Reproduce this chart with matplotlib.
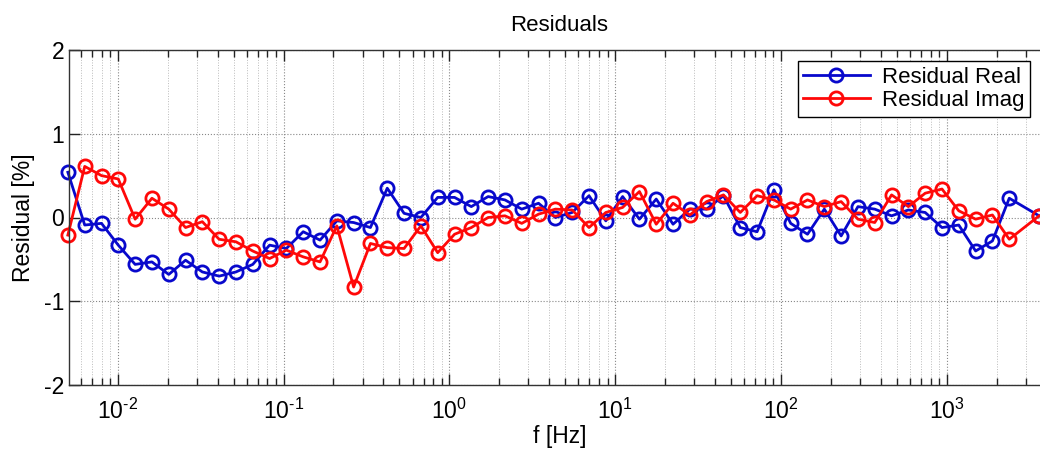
import numpy as np
import matplotlib
matplotlib.use("Agg")
import matplotlib.pyplot as plt
from matplotlib.ticker import FixedLocator, FuncFormatter, NullFormatter

plt.rcParams["font.family"] = ["Liberation Sans", "DejaVu Sans"]
plt.rcParams["mathtext.fontset"] = "custom"
plt.rcParams["mathtext.rm"] = "Liberation Sans"
plt.rcParams["mathtext.it"] = "Liberation Sans"
plt.rcParams["axes.unicode_minus"] = False

# Frecuencias del barrido [Hz]
freq = [0.00500, 0.00632, 0.00798, 0.01007, 0.01273, 0.01607, 0.02030, 0.02564,
        0.03237, 0.04089, 0.05164, 0.06522, 0.08236, 0.1040, 0.1314, 0.1660,
        0.2096, 0.2647, 0.3343, 0.4222, 0.5333, 0.6735, 0.8507, 1.075, 1.357,
        1.714, 2.165, 2.734, 3.453, 4.362, 5.508, 6.957, 8.787, 11.10, 14.02,
        17.70, 22.36, 28.24, 35.66, 45.04, 56.89, 71.85, 90.75, 114.6, 144.7,
        182.8, 230.9, 291.6, 368.3, 465.2, 587.5, 742.0, 937.1, 1183.0, 1495.0,
        1888.0, 2385.0, 3610.0]

# Residuos en %
res_real = [0.54, -0.09, -0.07, -0.33, -0.56, -0.53, -0.68, -0.51, -0.65, -0.70,
            -0.65, -0.56, -0.33, -0.37, -0.17, -0.27, -0.04, -0.06, -0.12, 0.35,
            0.05, 0.00, 0.24, 0.24, 0.13, 0.25, 0.21, 0.10, 0.17, 0.00,
            0.06, 0.26, -0.04, 0.25, -0.02, 0.22, -0.08, 0.10, 0.10, 0.26,
            -0.12, -0.17, 0.33, -0.07, -0.20, 0.10, -0.22, 0.13, 0.10, 0.02,
            0.09, 0.06, -0.12, -0.09, -0.40, -0.28, 0.23, 0.02]
res_imag = [-0.21, 0.61, 0.50, 0.46, -0.02, 0.23, 0.10, -0.12, -0.05, -0.26,
            -0.29, -0.40, -0.49, -0.39, -0.47, -0.53, -0.10, -0.83, -0.31, -0.36,
            -0.37, -0.10, -0.42, -0.20, -0.12, 0.00, 0.02, -0.07, 0.04, 0.10,
            0.09, -0.12, 0.06, 0.12, 0.31, -0.08, 0.17, 0.03, 0.19, 0.27,
            0.06, 0.26, 0.21, 0.10, 0.21, 0.13, 0.19, -0.02, -0.06, 0.27,
            0.13, 0.29, 0.34, 0.08, -0.02, 0.03, -0.26, 0.02]

# Décadas y subdivisiones del eje de frecuencia
decadas = [-2, -1, 0, 1, 2, 3]
xmin, xmax = 0.00508, 4200

fig = plt.figure(figsize=(10.4, 4.51), dpi=100)
ax = fig.add_axes([69 / 1040, 66 / 451, (1050 - 69) / 1040, 335 / 451])

ax.semilogx(freq, res_real, color="#0808cc", linewidth=2, marker="o",
            markersize=9.5, markerfacecolor="none", markeredgewidth=2,
            label="Residual Real", clip_on=False)
ax.semilogx(freq, res_imag, color="#ff0808", linewidth=2, marker="o",
            markersize=9.5, markerfacecolor="none", markeredgewidth=2,
            label="Residual Imag", clip_on=False)

ax.set_xlim(xmin, xmax)
ax.set_ylim(-2, 2)
ax.set_yticks([-2, -1, 0, 1, 2])

menores = [m * 10.0 ** d for d in range(-3, 4) for m in range(2, 10)
           if xmin <= m * 10.0 ** d <= xmax]
ax.xaxis.set_major_locator(FixedLocator([10.0 ** d for d in decadas]))
ax.xaxis.set_minor_locator(FixedLocator(menores))
ax.xaxis.set_major_formatter(FuncFormatter(
    lambda v, pos: r"$10^{%s}$" % (r"\text{-}%d" % -round(np.log10(v))
                                   if v < 1 else "%d" % round(np.log10(v)))))
ax.xaxis.set_minor_formatter(NullFormatter())

# Rejilla punteada al estilo MATLAB
ax.grid(True, which="major", axis="both", linestyle=":", color="#888888", linewidth=0.8)
ax.grid(True, which="minor", axis="x", linestyle=":", color="#bbbbbb", linewidth=0.7)

ax.tick_params(which="both", direction="in", top=True, right=False,
               labelsize=16.5, colors="#222222", labelcolor="black")
ax.tick_params(which="major", length=8, width=1)
ax.tick_params(which="minor", length=5, width=1)
ax.tick_params(axis="x", pad=10)
for s in ax.spines.values():
    s.set_color("#333333")
    s.set_linewidth(1)

ax.set_title("Residuals", fontsize=16, pad=14)
ax.set_xlabel("f [Hz]", fontsize=16.5, labelpad=1)
ax.set_ylabel("Residual [%]", fontsize=16.5, labelpad=6)

leg = ax.legend(loc="upper right", bbox_to_anchor=((1030 - 69) / (1050 - 69), 0.967),
                fontsize=16, fancybox=False, framealpha=1, edgecolor="black",
                handlelength=3.0, borderpad=0.25, labelspacing=0.12,
                handletextpad=0.55, borderaxespad=0)
leg.get_frame().set_linewidth(1)

fig.savefig("out.png", dpi=100)
